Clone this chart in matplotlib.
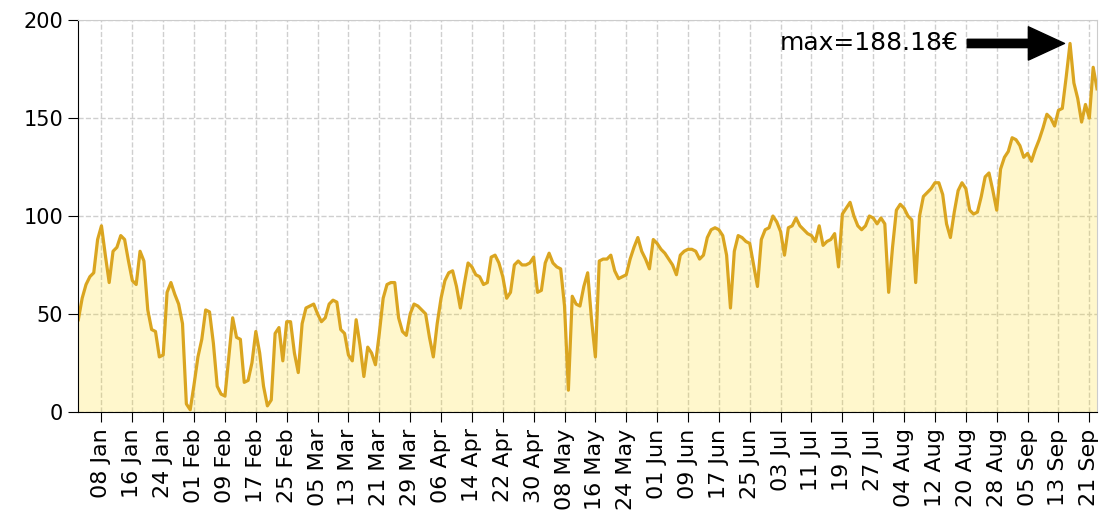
import matplotlib
matplotlib.use("Agg")
import matplotlib.pyplot as plt
import matplotlib.dates as mdates
import pandas as pd

start_date = "2023-01-02"
prices = [
    47, 58, 65, 69, 71, 88, 95, 80, 66, 82,
    84, 90, 88, 77, 67, 65, 82, 77, 52, 42,
    41, 28, 29, 61, 66, 60, 55, 45, 4, 1,
    14, 28, 37, 52, 51, 35, 13, 9, 8, 28,
    48, 38, 37, 15, 16, 25, 41, 30, 13, 3,
    6, 40, 43, 26, 46, 46, 30, 20, 45, 53,
    54, 55, 50, 46, 48, 55, 57, 56, 42, 40,
    29, 26, 47, 34, 18, 33, 30, 24, 40, 58,
    65, 66, 66, 48, 41, 39, 50, 55, 54, 52,
    50, 38, 28, 45, 58, 67, 71, 72, 64, 53,
    65, 76, 74, 70, 69, 65, 66, 79, 80, 76,
    69, 58, 61, 75, 77, 75, 75, 76, 79, 61,
    62, 76, 81, 76, 74, 73, 54, 11, 59, 55,
    54, 64, 71, 47, 28, 77, 78, 78, 80, 72,
    68, 69, 70, 78, 84, 89, 82, 78, 73, 88,
    86, 83, 81, 78, 75, 70, 80, 82, 83, 83,
    82, 78, 80, 89, 93, 94, 93, 90, 80, 53,
    82, 90, 89, 87, 86, 75, 64, 88, 93, 94,
    100, 97, 92, 80, 94, 95, 99, 95, 93, 91,
    90, 87, 95, 85, 87, 88, 91, 74, 101, 104,
    107, 100, 95, 93, 95, 100, 99, 96, 99, 96,
    61, 84, 103, 106, 104, 100, 98, 66, 100, 110,
    112, 114, 117, 117, 111, 96, 89, 102, 113, 117,
    114, 103, 101, 102, 110, 120, 122, 113, 103, 124,
    130, 133, 140, 139, 136, 130, 132, 128, 134, 139,
    145, 152, 150, 146, 154, 155, 171, 188.18, 168, 160,
    148, 157, 150, 176, 165,
]
y_ticks = [0, 50, 100, 150, 200]

dates = pd.date_range(start_date, periods=len(prices), freq="D")
s = pd.Series(prices, index=dates)

fig, ax = plt.subplots(figsize=(11.03, 5.29), dpi=100)
fig.subplots_adjust(left=0.071, right=0.9946, top=0.9616, bottom=0.2217)

ax.fill_between(s.index, s.values, 0, color="gold", alpha=0.2, linewidth=0)
ax.plot(s.index, s.values, color="goldenrod", linewidth=2.3)

ax.set_xlim(s.index[0], s.index[-1])
ax.set_ylim(0, 200)
ax.set_yticks(y_ticks)

ticks = pd.date_range("2023-01-08", s.index[-1], freq="8D")
ax.set_xticks(ticks)
ax.xaxis.set_major_formatter(mdates.DateFormatter("%d %b"))
ax.tick_params(axis="x", labelrotation=90, labelsize=16, length=7, pad=5)
ax.tick_params(axis="y", labelsize=15, length=7, pad=4)

ax.grid(True, color="#cfcfcf", linestyle="--", linewidth=1)
ax.set_axisbelow(True)
for side in ("top", "right"):
    ax.spines[side].set_color("#cccccc")

# mark the highest price
imax = s.idxmax()
ax.annotate(f"max={s.max():.2f}€", xy=(imax, s.max()),
            xytext=(-80, 0), textcoords="offset points",
            ha="right", va="center", fontsize=18,
            arrowprops=dict(facecolor="black", shrink=0.05,
                            width=6, headwidth=24, headlength=26))

fig.savefig("out.png", dpi=100)
